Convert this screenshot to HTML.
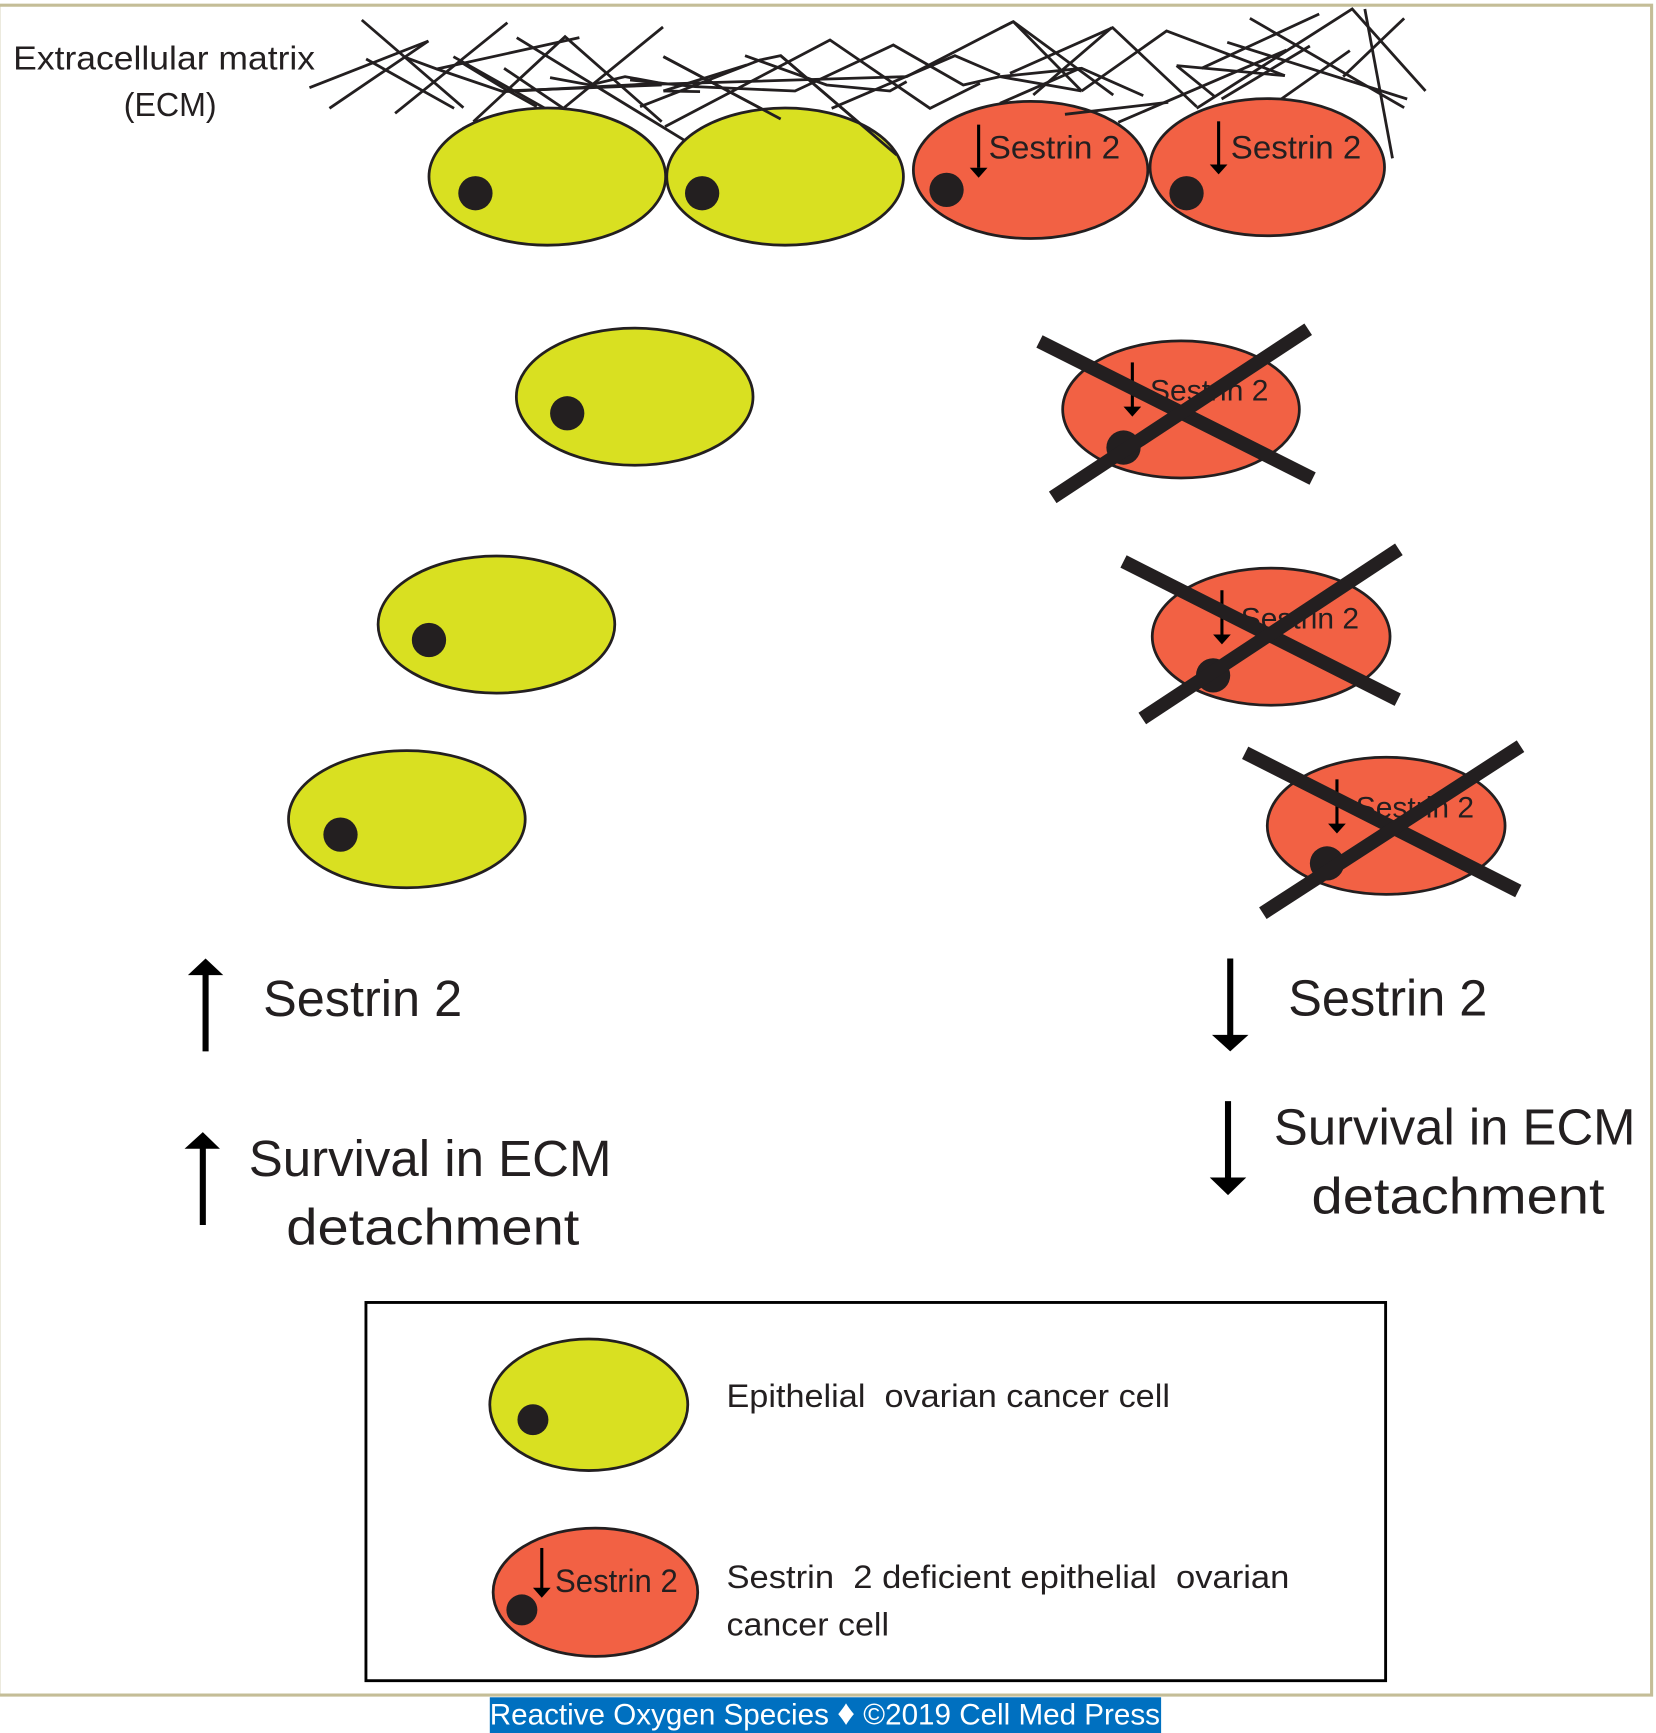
<!DOCTYPE html>
<html lang="en">
<head>
<meta charset="utf-8">
<title>Sestrin 2 and survival in ECM detachment</title>
<style>
html,body{margin:0;padding:0;background:#fff;}
svg{display:block;}
text{font-family:"Liberation Sans",sans-serif;fill:#231f20;}
.fib polyline{fill:none;stroke:#231f20;stroke-width:2.8;stroke-linejoin:miter;vector-effect:non-scaling-stroke;}
.g{fill:#d9e021;stroke:#231f20;stroke-width:2.500;}
.r{fill:#f26144;stroke:#231f20;stroke-width:2.500;}
.n{fill:#231f20;}
.a{stroke:#000;stroke-width:2.8;fill:none;}
.h{fill:#000;}
.x{stroke:#231f20;stroke-width:12.5;}
</style>
</head>
<body>
<svg width="1656" height="1733" viewBox="0.3 0.3 1497 1567" xmlns="http://www.w3.org/2000/svg">
<rect x="0" y="0" width="1500" height="1570" fill="#fff"/>
<rect x="-1" y="5" width="1494.500" height="1528" fill="none" stroke="#c4bd97" stroke-width="2.800"/>

<g class="fib" transform="translate(0.3,0.3) scale(0.904,0.9042)">
 <g transform="translate(300,5) scale(0.3333)">
  <polyline points="185,45 490,308"/>
  <polyline points="28,248 385,108"/>
  <polyline points="88,310 385,108"/>
  <polyline points="198,162 462,310"/>
  <polyline points="285,325 622,53"/>
  <polyline points="310,155 410,192 838,98"/>
  <polyline points="410,192 610,260 1080,235"/>
  <polyline points="460,155 735,310"/>
  <polyline points="480,170 620,255 710,305"/>
  <polyline points="612,190 790,310"/>
  <polyline points="520,350 795,95 1085,350"/>
  <polyline points="650,98 1176,420"/>
  <polyline points="790,310 1089,66"/>
  <polyline points="750,218 870,240 975,215 1085,235"/>
  <polyline points="610,258 1085,240"/>
 </g>
 <g transform="translate(640,5) scale(0.3333)">
  <polyline points="-30,240 800,215 1080,70 1120,50"/>
  <polyline points="-30,225 165,245 465,258 760,120 970,240 1080,215"/>
  <polyline points="75,365 570,105 870,310 1020,235"/>
  <polyline points="0,305 360,165 422,152 770,450"/>
  <polyline points="70,258 180,260"/>
  <polyline points="70,258 320,180"/>
  <polyline points="70,155 422,342"/>
  <polyline points="315,152 560,240 750,258 800,230"/>
  <polyline points="575,310 945,152 1080,210"/>
 </g>
 <g transform="translate(1000,5) scale(0.3333)">
  <polyline points="0,70 40,50 245,258"/>
  <polyline points="40,50 340,270"/>
  <polyline points="0,215 245,190 430,272"/>
  <polyline points="0,215 245,258"/>
  <polyline points="30,205 338,68 590,305"/>
  <polyline points="100,270 335,68"/>
  <polyline points="0,295 240,190"/>
  <polyline points="245,258 500,78 855,212"/>
  <polyline points="355,352 860,135"/>
  <polyline points="530,182 855,212"/>
  <polyline points="530,182 645,275"/>
  <polyline points="590,310 1057,12 1277,258"/>
  <polyline points="665,282 930,123"/>
  <polyline points="605,190 958,27"/>
  <polyline points="750,40 1213,308"/>
  <polyline points="682,112 1222,282"/>
  <polyline points="840,285 1050,137"/>
  <polyline points="1030,215 1213,40"/>
  <polyline points="1095,12 1178,460"/>
 </g>
</g>

<text x="12" y="63" font-size="30" textLength="273" lengthAdjust="spacingAndGlyphs">Extracellular matrix</text>
<text x="112" y="105" font-size="30" textLength="84" lengthAdjust="spacingAndGlyphs">(ECM)</text>

<g><ellipse class="g" cx="495" cy="160" rx="107" ry="62"/><circle class="n" cx="430" cy="175" r="15.500"/></g>
<g><ellipse class="g" cx="710" cy="160" rx="107" ry="62"/><circle class="n" cx="635" cy="175" r="15.500"/></g>

<g>
 <ellipse class="r" cx="932" cy="154" rx="106" ry="62"/><circle class="n" cx="856" cy="172" r="15.500"/>
 <line class="a" x1="885" y1="113" x2="885" y2="152"/><polygon class="h" points="877,152 893,152 885,161"/>
 <text x="894" y="143.500" font-size="29" textLength="119" lengthAdjust="spacingAndGlyphs">Sestrin 2</text>
</g>
<g>
 <ellipse class="r" cx="1146" cy="151.500" rx="106" ry="62"/><circle class="n" cx="1073" cy="175" r="15.500"/>
 <line class="a" x1="1102" y1="110" x2="1102" y2="150"/><polygon class="h" points="1094,149 1110,149 1102,158"/>
 <text x="1113" y="143.500" font-size="29" textLength="118" lengthAdjust="spacingAndGlyphs">Sestrin 2</text>
</g>

<g class="fib" transform="translate(0.3,0.3) scale(0.904,0.9042)">
 <g transform="translate(640,5) scale(0.3333)">
  <polyline points="70,155 422,342"/>
  <polyline points="422,152 770,450"/>
 </g>
 <g transform="translate(1000,5) scale(0.3333)">
  <polyline points="195,328 505,292"/>
 </g>
</g>

<g><ellipse class="g" cx="574" cy="359" rx="107" ry="62"/><circle class="n" cx="513" cy="374" r="15.500"/></g>
<g><ellipse class="g" cx="449" cy="565" rx="107" ry="62"/><circle class="n" cx="388" cy="579" r="15.500"/></g>
<g><ellipse class="g" cx="368" cy="741" rx="107" ry="62"/><circle class="n" cx="308" cy="755" r="15.500"/></g>

<g>
 <ellipse class="r" cx="1068" cy="370.500" rx="107" ry="62"/><circle class="n" cx="1016" cy="405" r="15.500"/>
 <line class="a" x1="1024" y1="328" x2="1024" y2="369"/><polygon class="h" points="1016,368 1032,368 1024,377"/>
 <text x="1040" y="362.500" font-size="27" textLength="107" lengthAdjust="spacingAndGlyphs">Sestrin 2</text>
 <line class="x" x1="940" y1="309" x2="1187" y2="433"/><line class="x" x1="952" y1="450" x2="1183" y2="298"/>
</g>
<g>
 <ellipse class="r" cx="1149.500" cy="576" rx="107.500" ry="62"/><circle class="n" cx="1097" cy="611" r="15.500"/>
 <line class="a" x1="1105" y1="534" x2="1105" y2="575"/><polygon class="h" points="1097,574 1113,574 1105,583"/>
 <text x="1122" y="568.500" font-size="27" textLength="107" lengthAdjust="spacingAndGlyphs">Sestrin 2</text>
 <line class="x" x1="1016" y1="508" x2="1264" y2="633"/><line class="x" x1="1033" y1="650" x2="1265" y2="497"/>
</g>
<g>
 <ellipse class="r" cx="1253.500" cy="747" rx="107.500" ry="62"/><circle class="n" cx="1200" cy="781" r="15.500"/>
 <line class="a" x1="1209" y1="705" x2="1209" y2="746"/><polygon class="h" points="1201,745 1217,745 1209,754"/>
 <text x="1226" y="739.500" font-size="27" textLength="107" lengthAdjust="spacingAndGlyphs">Sestrin 2</text>
 <line class="x" x1="1126" y1="681" x2="1373" y2="806"/><line class="x" x1="1142" y1="826" x2="1375" y2="675"/>
</g>

<g>
 <line x1="186" y1="880" x2="186" y2="951" stroke="#000" stroke-width="5.500"/><polygon class="h" points="170,882 202,882 186,867"/>
 <text x="238" y="919" font-size="46" textLength="180" lengthAdjust="spacingAndGlyphs">Sestrin 2</text>
</g>
<g>
 <line x1="183.500" y1="1037" x2="183.500" y2="1108" stroke="#000" stroke-width="5.500"/><polygon class="h" points="167,1039 199,1039 183.500,1024"/>
 <text x="225" y="1063.500" font-size="46" textLength="328" lengthAdjust="spacingAndGlyphs">Survival in ECM</text>
 <text x="259" y="1125.500" font-size="46" textLength="265" lengthAdjust="spacingAndGlyphs">detachment</text>
</g>
<g>
 <line x1="1112.500" y1="867" x2="1112.500" y2="938" stroke="#000" stroke-width="5.500"/><polygon class="h" points="1096,936 1129,936 1112.500,951"/>
 <text x="1165" y="918.500" font-size="46" textLength="180" lengthAdjust="spacingAndGlyphs">Sestrin 2</text>
</g>
<g>
 <line x1="1110.500" y1="996" x2="1110.500" y2="1067" stroke="#000" stroke-width="5.500"/><polygon class="h" points="1094,1065 1127,1065 1110.500,1081"/>
 <text x="1152" y="1035" font-size="46" textLength="327" lengthAdjust="spacingAndGlyphs">Survival in ECM</text>
 <text x="1186" y="1097.500" font-size="46" textLength="265" lengthAdjust="spacingAndGlyphs">detachment</text>
</g>

<g>
 <rect x="331" y="1178" width="922" height="342" fill="#fff" stroke="#000" stroke-width="2.600"/>
 <g>
  <ellipse class="g" cx="532.500" cy="1270.500" rx="89.500" ry="59.500"/><circle class="n" cx="482" cy="1284" r="14"/>
  <text x="657" y="1272.500" font-size="29" textLength="401" lengthAdjust="spacingAndGlyphs" xml:space="preserve">Epithelial  ovarian cancer cell</text>
 </g>
 <g>
  <ellipse class="r" cx="538.500" cy="1440" rx="92.500" ry="58"/><circle class="n" cx="472" cy="1456" r="14"/>
  <line class="a" x1="490" y1="1400" x2="490" y2="1437"/><polygon class="h" points="482,1436 498,1436 490,1445"/>
  <text x="502" y="1440" font-size="29" textLength="111" lengthAdjust="spacingAndGlyphs">Sestrin 2</text>
  <text x="657" y="1436" font-size="29" textLength="509" lengthAdjust="spacingAndGlyphs" xml:space="preserve">Sestrin  2 deficient epithelial  ovarian</text>
  <text x="657" y="1479" font-size="29" textLength="147" lengthAdjust="spacingAndGlyphs">cancer cell</text>
 </g>
</g>

<g>
 <rect x="443" y="1535" width="607" height="33" fill="#0070c0"/>
 <text x="443" y="1559.500" font-size="27" textLength="606" lengthAdjust="spacingAndGlyphs" style="fill:#fff">Reactive Oxygen Species <tspan font-size="32" style="fill:#fff">♦</tspan> ©2019 Cell Med Press</text>
</g>
</svg>
</body>
</html>
